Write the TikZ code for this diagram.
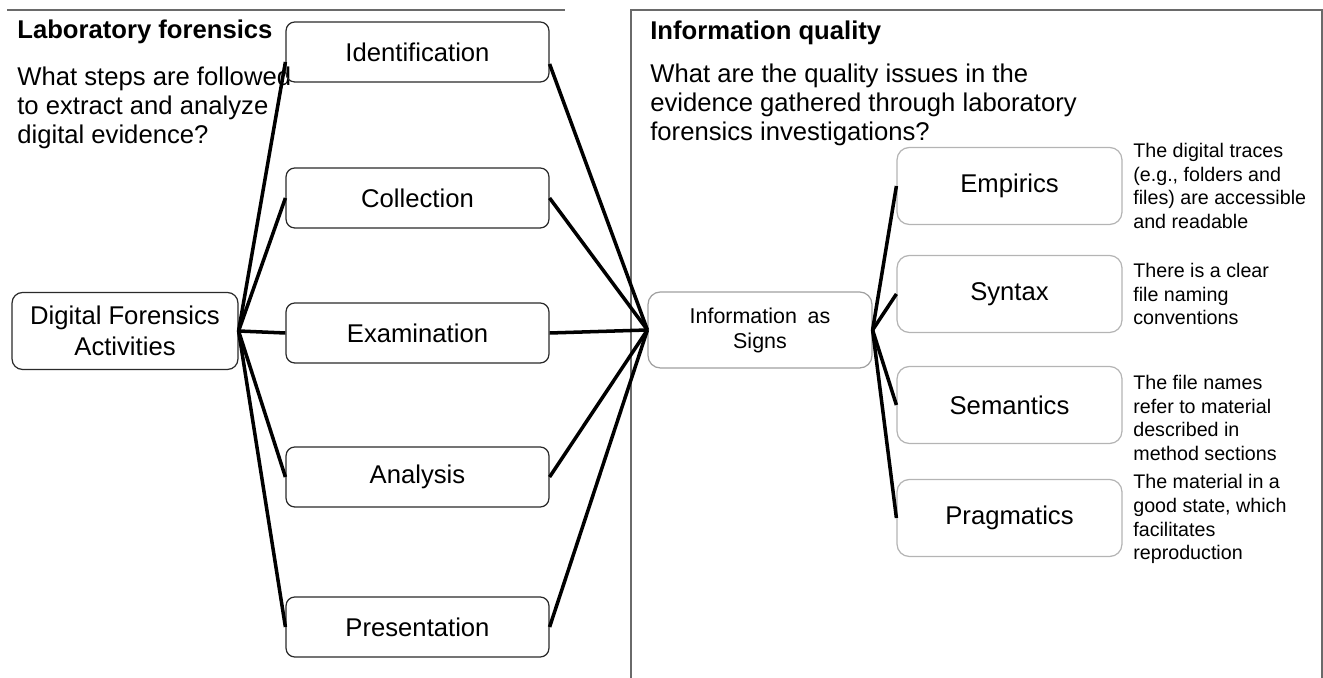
\documentclass[tikz,border=0pt]{standalone}
\usepackage{fontspec}
\setmainfont{Liberation Sans}
\usetikzlibrary{calc}
\definecolor{boxdark}{HTML}{2A2A2A}
\definecolor{boxlight}{HTML}{B4B4B4}
\definecolor{boxmid}{HTML}{A0A0A0}
\definecolor{panelgray}{HTML}{6A6A6A}
\begin{document}
\begin{tikzpicture}[x=0.02cm,y=-0.02cm,
  stepbox/.style={draw=boxdark, line width=0.7pt, rounded corners=5pt, minimum width=5.26cm, minimum height=1.2cm, inner sep=0pt, font=\fontsize{14.6}{17.6}\selectfont, align=center},
  rootbox/.style={draw=boxdark, line width=0.7pt, rounded corners=6pt, minimum width=4.52cm, minimum height=1.54cm, inner sep=0pt, font=\fontsize{14.6}{17.6}\selectfont, align=center},
  signbox/.style={draw=boxmid, line width=0.7pt, rounded corners=7pt, minimum width=4.48cm, minimum height=1.52cm, inner sep=0pt, font=\fontsize{12.2}{14.2}\selectfont, align=center},
  qualbox/.style={draw=boxlight, line width=0.7pt, rounded corners=7pt, minimum width=4.5cm, minimum height=1.54cm, inner sep=0pt, font=\fontsize{14.6}{17.6}\selectfont, align=center},
  desc/.style={anchor=west, align=left, inner sep=0pt, font=\fontsize{11.2}{13.6}\selectfont},
  heading/.style={anchor=west, inner sep=0pt, font=\fontsize{14.6}{17.6}\selectfont\bfseries},
  question/.style={anchor=west, align=left, inner sep=0pt, font=\fontsize{14.6}{16.6}\selectfont},
  conn/.style={line width=2pt, black},
  frame/.style={draw=panelgray, line width=0.8pt}
]
\useasboundingbox (0,0) rectangle (1323,678);

% frames
\draw[frame] (7,10) -- (565,10);
\draw[frame] (631,678) -- (631,10) -- (1322,10) -- (1322,678);

% headings and questions
\node[heading] (labh) at (17,32) {Laboratory forensics};
\node[question] (labq) at (17,108) {What steps are followed\\to extract and analyze\\digital evidence?};
\node[heading] (iqh) at (650,33) {Information quality};
\node[question] (iqq) at (650,105) {What are the quality issues in the\\evidence gathered through laboratory\\forensics investigations?};

% left nodes
\node[rootbox] (dfa) at (125,331) {Digital Forensics\\Activities};
\node[stepbox] (id) at (417.5,52) {Identification};
\node[stepbox] (co) at (417.5,198) {Collection};
\node[stepbox] (ex) at (417.5,333) {Examination};
\node[stepbox] (an) at (417.5,477) {Analysis};
\node[stepbox] (pr) at (417.5,627) {Presentation};

% centre node
\node[signbox] (isg) at (760,330) {Information\enspace as\\Signs};

% right nodes
\node[qualbox] (em) at (1009.5,186) {Empirics};
\node[qualbox] (sy) at (1009.5,294) {Syntax};
\node[qualbox] (se) at (1009.5,405) {Semantics};
\node[qualbox] (pg) at (1009.5,518) {Pragmatics};

% descriptions
\node[desc] (emd) at (1133,186) {The digital traces\\(e.g., folders and\\files) are accessible\\and readable};
\node[desc] (syd) at (1133,294) {There is a clear\\file naming\\conventions};
\node[desc] (sed) at (1133,418) {The file names\\refer to material\\described in\\method sections};
\node[desc] (pgd) at (1133,519) {The material in a\\good state, which\\facilitates\\reproduction};

% connectors left fan
\draw[conn] (dfa.east) -- ($(id.west)+(0,10)$);
\draw[conn] (dfa.east) -- (co.west);
\draw[conn] (dfa.east) -- (ex.west);
\draw[conn] (dfa.east) -- (an.west);
\draw[conn] (dfa.east) -- (pr.west);

% connectors to centre
\draw[conn] ($(id.east)+(0,12)$) -- (isg.west);
\draw[conn] (co.east) -- (isg.west);
\draw[conn] (ex.east) -- (isg.west);
\draw[conn] (an.east) -- (isg.west);
\draw[conn] (pr.east) -- (isg.west);

% right fan
\draw[conn] (isg.east) -- (em.west);
\draw[conn] (isg.east) -- (sy.west);
\draw[conn] (isg.east) -- (se.west);
\draw[conn] (isg.east) -- (pg.west);
\end{tikzpicture}
\end{document}
